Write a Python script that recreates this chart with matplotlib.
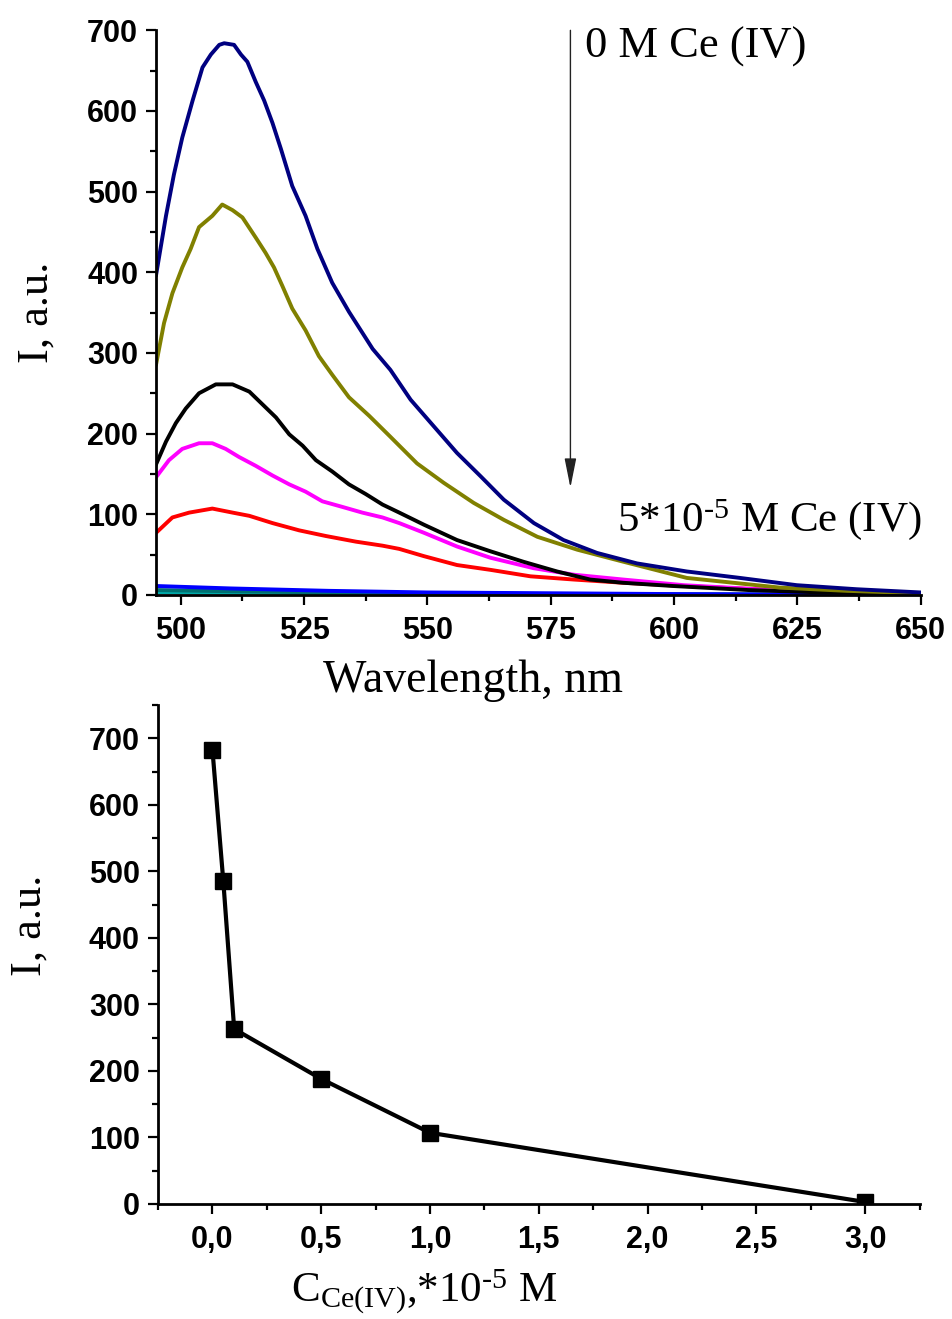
import matplotlib
matplotlib.use("Agg")
import matplotlib.pyplot as plt
from matplotlib.ticker import MultipleLocator

# Espectros de fluorescencia
wl_navy = [495, 497, 498.6, 500.3, 502.4, 504.4, 506.1, 507.8, 508.8, 510.8, 512.2, 513.5,
           515.2, 516.9, 518.6, 520.3, 522.6, 525.3, 527.7, 530.7, 534.1, 538.9, 542.5,
           546.6, 551.3, 556, 560.8, 565.5, 571.6, 577.6, 584.4, 592.5, 602.6, 613.4,
           624.9, 637, 650]
I_navy = [397, 470, 521, 567, 613, 654, 670, 682, 684, 682, 670, 661, 636, 613, 585, 553,
          507, 470, 429, 387, 351, 305, 279, 242, 209, 176, 147, 118, 89, 68, 52, 39, 29,
          21, 12, 7, 3]

wl_olive = [495, 496.6, 498.3, 500.3, 502, 503.7, 506.4, 508.4, 510.5, 512.5, 515.2, 517.2,
            518.9, 520.6, 522.6, 525.3, 528, 530.7, 534.1, 538.2, 542.5, 547.9, 553.3,
            559.4, 565.5, 572.3, 580.4, 589.8, 602.6, 621.5, 635, 650]
I_olive = [286, 337, 374, 406, 429, 456, 470, 484, 477, 468, 443, 424, 406, 383, 355, 328,
           296, 273, 245, 222, 196, 163, 139, 114, 93, 72, 56, 41, 21, 9, 5, 2]

wl_black = [495, 497, 499, 501, 503.7, 507.1, 510.5, 513.9, 516.6, 519.3, 522, 524.7, 527.4,
            530.7, 534.1, 537.5, 540.9, 544.3, 549.3, 556, 562.8, 569.5, 576.3, 583, 589.7,
            599.8, 615, 630, 650]
I_black = [162, 190, 213, 231, 250, 261, 261, 252, 236, 220, 199, 185, 167, 153, 137, 125,
           112, 102, 87, 68, 54, 41, 29, 19, 15, 11, 6, 3, 1]

wl_magenta = [495, 497.6, 500.3, 503.7, 506.4, 509.1, 511.8, 515.2, 518.6, 522, 525.3, 528.7,
              532.8, 536.8, 540.9, 544.3, 549.3, 556, 562.8, 571.6, 579.7, 589.7, 602, 620,
              635, 650]
I_magenta = [146, 167, 181, 188, 188, 181, 171, 160, 148, 137, 128, 116, 109, 102, 96, 89,
             77, 60, 46, 33, 25, 19, 12, 6, 3, 1]

wl_red = [495, 498.3, 501.7, 506.4, 510.5, 513.9, 518.6, 524, 529.4, 535.5, 540.9, 544.3,
          549.3, 556, 562.8, 570.9, 579.7, 589.7, 602, 620, 635, 650]
I_red = [77, 96, 102, 107, 102, 98, 89, 80, 73, 66, 61, 57, 48, 37, 31, 23, 19, 15, 11, 6,
         3, 1]

wl_low = [495, 510, 530, 550, 575, 600, 625, 650]
I_blue = [11, 8, 5, 3, 2, 1, 0.5, 0.3]
I_teal = [6, 4.5, 3, 2, 1, 0.5, 0.3, 0.2]
I_cyan = [3, 2.5, 2, 1.5, 1, 0.5, 0.2, 0.1]

# Intensidad en el maximo frente a la concentracion de Ce(IV)
conc = [0, 0.05, 0.1, 0.5, 1.0, 3.0]
I_max = [683, 485, 263, 188, 107, 3]

serif = ['Liberation Serif', 'DejaVu Serif']
tick_font = ['Liberation Sans', 'DejaVu Sans']
plt.rcParams['mathtext.fontset'] = 'custom'
plt.rcParams['mathtext.rm'] = 'Liberation Serif'
plt.rcParams['mathtext.it'] = 'Liberation Serif:italic'

HYPH = '\u2010'


def estilo_ejes(ax):
    for s in ['top', 'right']:
        ax.spines[s].set_visible(False)
    for s in ['left', 'bottom']:
        ax.spines[s].set_linewidth(2)
    ax.tick_params(which='major', direction='out', length=7, width=1.6, pad=6)
    ax.tick_params(axis='x', which='major', pad=8)
    ax.tick_params(which='minor', direction='out', length=4.5, width=1.6)
    for lab in ax.get_xticklabels() + ax.get_yticklabels():
        lab.set_fontfamily(tick_font)
        lab.set_fontweight('bold')
        lab.set_fontsize(22)


fig = plt.figure(figsize=(9.52, 13.19), dpi=100)

# Panel superior: espectros
ax1 = fig.add_axes([0.164, 0.549, 0.803, 0.428])
lw = 2.8
ax1.plot(wl_low, I_cyan, color='#00a8a8', lw=lw)
ax1.plot(wl_low, I_teal, color='#007070', lw=lw)
ax1.plot(wl_low, I_blue, color='#0000ff', lw=lw)
ax1.plot(wl_red, I_red, color='#ff0000', lw=lw)
ax1.plot(wl_magenta, I_magenta, color='#ff00ff', lw=lw)
ax1.plot(wl_black, I_black, color='black', lw=lw)
ax1.plot(wl_olive, I_olive, color='#808000', lw=lw)
ax1.plot(wl_navy, I_navy, color='#000080', lw=lw)

ax1.set_xlim(495, 650)
ax1.set_ylim(0, 700)
ax1.xaxis.set_major_locator(MultipleLocator(25))
ax1.xaxis.set_minor_locator(MultipleLocator(12.5))
ax1.yaxis.set_major_locator(MultipleLocator(100))
ax1.yaxis.set_minor_locator(MultipleLocator(50))
estilo_ejes(ax1)
ax1.set_xlabel('Wavelength, nm', fontfamily=serif, fontsize=33)
ax1.xaxis.set_label_coords(0.414, -0.115)
ax1.set_ylabel('I, a.u.', fontfamily=serif, fontsize=32)
ax1.yaxis.set_label_coords(-0.130, 0.5)

ax1.annotate('', xy=(579, 133), xytext=(579, 700),
             arrowprops=dict(arrowstyle='-|>,head_length=0.9,head_width=0.18',
                             color='#222222', lw=1.0, mutation_scale=20,
                             shrinkA=0, shrinkB=0))
ax1.text(582, 679, '0 M Ce (IV)', fontfamily=serif, fontsize=32, va='center', ha='left')
ax1.text(588.5, 93, r'5*10$^{\mathrm{' + HYPH + r'5}}$ M Ce (IV)', fontfamily=serif,
         fontsize=31, va='center', ha='left')

# Panel inferior: intensidad frente a concentracion
ax2 = fig.add_axes([0.166, 0.0872, 0.800, 0.3783])
ax2.plot(conc, I_max, color='black', lw=3, marker='s', markersize=11,
         markerfacecolor='black', markeredgecolor='black')
ax2.set_xlim(-0.25, 3.25)
ax2.set_ylim(0, 750)
ax2.xaxis.set_major_locator(MultipleLocator(0.5))
ax2.xaxis.set_minor_locator(MultipleLocator(0.25))
ax2.yaxis.set_major_locator(MultipleLocator(100))
ax2.yaxis.set_minor_locator(MultipleLocator(50))
ax2.xaxis.set_major_formatter(plt.FuncFormatter(lambda v, p: f'{v:.1f}'.replace('.', ',')))
estilo_ejes(ax2)
ax2.set_xlabel(r'C$_{\mathrm{Ce(IV)}}$,*10$^{\mathrm{' + HYPH + r'5}}$ M', fontfamily=serif,
               fontsize=31)
ax2.xaxis.set_label_coords(0.35, -0.128)
ax2.set_ylabel('I, a.u.', fontfamily=serif, fontsize=32)
ax2.yaxis.set_label_coords(-0.143, 0.559)

fig.savefig('out.png', dpi=100)
